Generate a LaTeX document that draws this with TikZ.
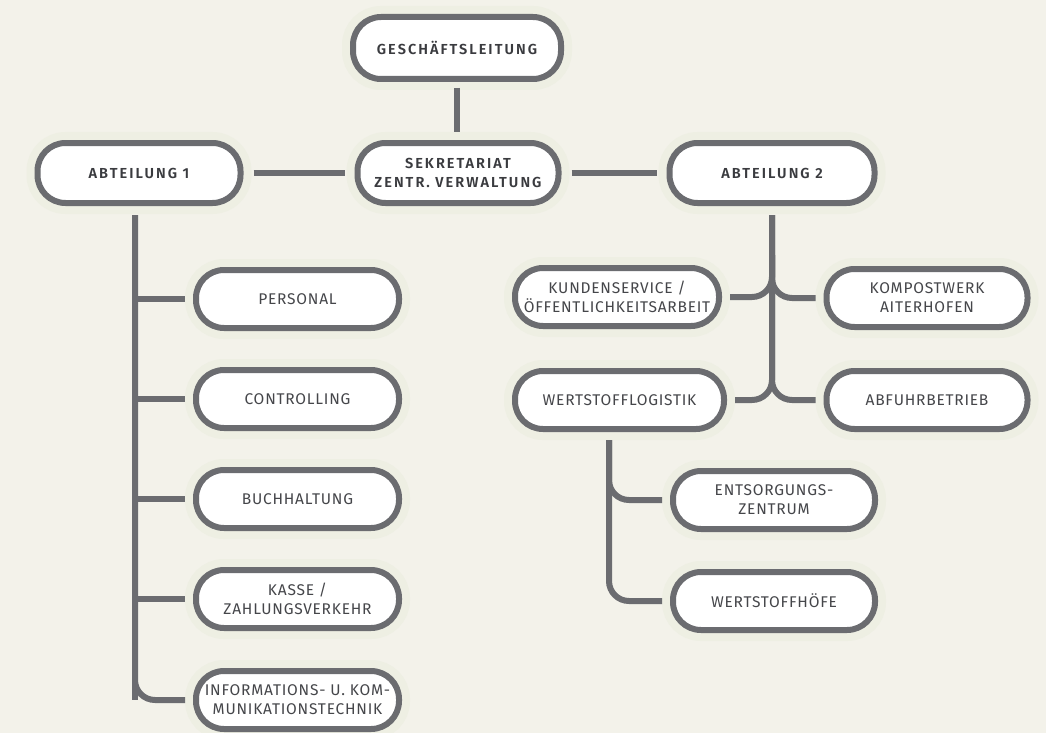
\documentclass[tikz,border=0pt]{standalone}
\usepackage{fontspec}
\IfFontExistsTF{Fira Sans SemiBold}
  {\setmainfont{Fira Sans}[LetterSpace=5, BoldFont={Fira Sans SemiBold}]}
  {\setmainfont{Fira Sans}[LetterSpace=5]}
\definecolor{bg}{HTML}{F3F2EA}
\definecolor{halo}{HTML}{EEEFE3}
\definecolor{ln}{HTML}{6B6C70}
\definecolor{txt}{HTML}{45464A}
\definecolor{txtb}{HTML}{3A3B3F}
\tikzset{
  box/.style={rectangle, rounded corners=28pt, draw=ln, line width=6pt, fill=white,
    minimum width=203pt, minimum height=58pt, inner sep=0pt, align=center,
    text=txt, font=\fontsize{15.5}{19}\selectfont,
    preaction={draw=halo, line width=22pt}},
  hbox/.style={box, text=txtb, font=\fontsize{14.5}{18.5}\selectfont\bfseries\addfontfeatures{LetterSpace=14}},
  conn/.style={draw=ln, line width=6pt},
}
\begin{document}
\begin{tikzpicture}[x=1pt,y=-1pt]
\fill[bg] (0,0) rectangle (1046,733);
\useasboundingbox (0,0) rectangle (1046,733);
% top level
\node[hbox, minimum width=208pt, minimum height=62pt] (gl) at (457,48) {GESCHÄFTSLEITUNG};
\node[hbox, minimum width=201pt, minimum height=60pt] (sek) at (458,173) {SEKRETARIAT\\ZENTR. VERWALTUNG};
\node[hbox, minimum width=203pt, minimum height=60pt] (ab1) at (139,173) {ABTEILUNG 1};
\node[hbox, minimum width=205pt, minimum height=60pt] (ab2) at (772,173) {ABTEILUNG 2};
% left children
\node[box] (pers) at (297.5,299) {PERSONAL};
\node[box] (contr) at (297.5,399) {CONTROLLING};
\node[box] (buch) at (297.5,499) {BUCHHALTUNG};
\node[box] (kasse) at (297.5,599) {KASSE /\\ZAHLUNGSVERKEHR};
\node[box] (info) at (297.5,700) {INFORMATIONS- U. KOM-\\MUNIKATIONSTECHNIK};
% right children
\node[box, minimum width=204pt] (kund) at (617,297) {KUNDENSERVICE /\\ÖFFENTLICHKEITSARBEIT};
\node[box, minimum width=201pt] (komp) at (927,298) {KOMPOSTWERK\\AITERHOFEN};
\node[box, minimum width=209pt] (wlog) at (619.5,400) {WERTSTOFFLOGISTIK};
\node[box, minimum width=201pt] (abf) at (927,400) {ABFUHRBETRIEB};
\node[box, minimum width=202pt] (ents) at (774,500) {ENTSORGUNGS-\\ZENTRUM};
\node[box, minimum width=202pt] (hoefe) at (774,601) {WERTSTOFFHÖFE};
% connectors top
\draw[conn, shorten <=6pt, shorten >=8pt] (gl.south) -- (gl.south |- sek.north);
\draw[conn, shorten <=10pt, shorten >=10pt] (ab1.east) -- (sek.west);
\draw[conn, shorten <=10pt, shorten >=10pt] (sek.east) -- (ab2.west);
% left tree
\coordinate (l0) at (135,215);
\draw[conn] (l0) -- (l0 |- info.west);
\draw[conn, shorten >=8pt] (l0 |- pers.west) -- (pers.west);
\draw[conn, shorten >=8pt] (l0 |- contr.west) -- (contr.west);
\draw[conn, shorten >=8pt] (l0 |- buch.west) -- (buch.west);
\draw[conn, shorten >=8pt] (l0 |- kasse.west) -- (kasse.west);
\draw[conn, rounded corners=20pt, shorten >=8pt] (l0) |- (info.west);
% right tree
\coordinate (r0) at (772,215);
\coordinate (r1) at (772,255);
\draw[conn] (r0) -- (772,385);
\draw[conn, rounded corners=20pt, shorten >=8pt] (r1) |- (kund.east);
\draw[conn, rounded corners=20pt, shorten >=8pt] (r1) |- (komp.west);
\draw[conn, rounded corners=20pt, shorten >=8pt] (r0) |- (wlog.east);
\draw[conn, rounded corners=20pt, shorten >=8pt] (r0) |- (abf.west);
% wertstofflogistik subtree
\coordinate (w0) at (609,440);
\draw[conn, rounded corners=20pt, shorten >=8pt] (w0) |- (ents.west);
\draw[conn, rounded corners=20pt, shorten >=8pt] (w0) |- (hoefe.west);
\end{tikzpicture}
\end{document}
